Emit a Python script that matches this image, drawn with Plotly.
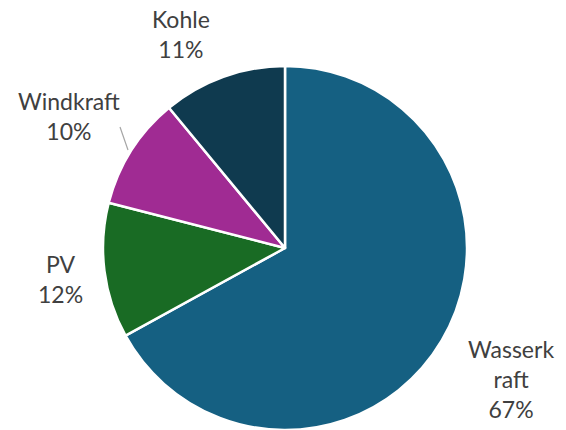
import plotly.graph_objects as go

# Energy mix shares (percent)
labels = ["Wasserkraft", "PV", "Windkraft", "Kohle"]
values = [67, 12, 10, 11]
colors = ["#156082", "#196B24", "#A02B93", "#0F3A4F"]

# Displayed label text (line-wrapped) and their positions in paper coords
label_text = ["Wasserk<br>raft", "PV", "Windkraft", "Kohle"]
label_x = [511, 60, 69, 181]
label_y = [379, 279, 116, 34]

W, H = 566, 430
cx, cy, r = 285, 248, 182

fig = go.Figure(
    go.Pie(
        labels=labels,
        values=values,
        sort=False,
        direction="clockwise",
        rotation=0,
        textinfo="none",
        hoverinfo="label+percent",
        marker=dict(colors=colors, line=dict(color="white", width=2.5)),
        domain=dict(
            x=[(cx - r) / W, (cx + r) / W],
            y=[(H - cy - r) / H, (H - cy + r) / H],
        ),
        showlegend=False,
    )
)

total = sum(values)
for txt, v, x, y in zip(label_text, values, label_x, label_y):
    fig.add_annotation(
        x=x / W,
        y=1 - y / H,
        xref="paper",
        yref="paper",
        text=f"{txt}<br>{round(v / total * 100)}%",
        showarrow=False,
        xanchor="center",
        yanchor="middle",
        align="center",
        font=dict(family="Lato", size=23, color="#404040"),
    )

# leader line for the Windkraft label
fig.add_shape(
    type="line",
    xref="paper",
    yref="paper",
    x0=120 / W,
    y0=1 - 127 / H,
    x1=128 / W,
    y1=1 - 150 / H,
    line=dict(color="#A6A6A6", width=1.2),
)

fig.update_layout(
    width=W,
    height=H,
    margin=dict(l=0, r=0, t=0, b=0),
    paper_bgcolor="white",
    plot_bgcolor="white",
)

fig.write_html("out.html")
